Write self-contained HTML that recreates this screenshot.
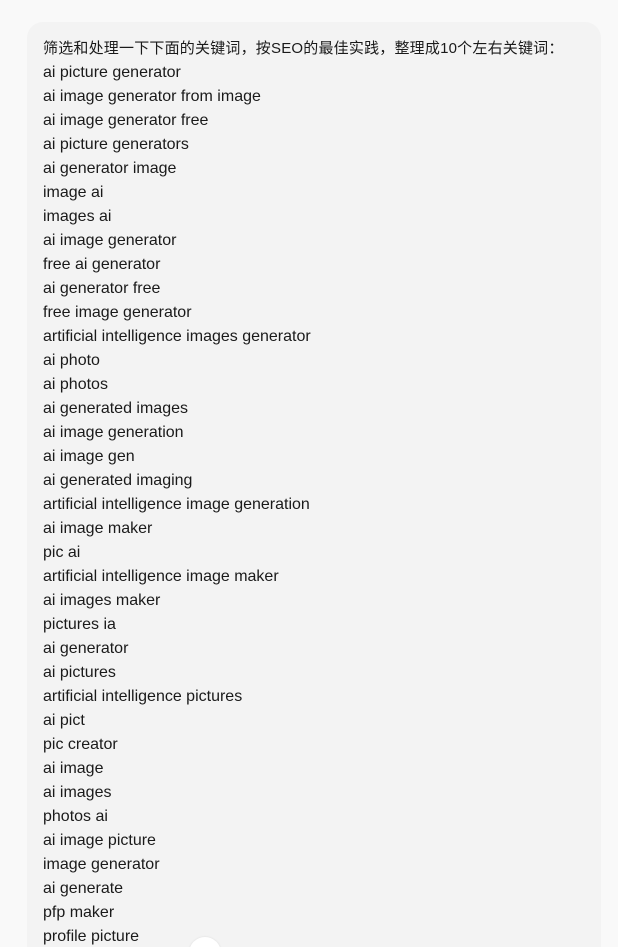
<!DOCTYPE html>
<html><head><meta charset="utf-8"><style>
html,body{margin:0;padding:0;width:618px;height:947px;overflow:hidden;background:#f9f9f9;}
#wrap{position:relative;width:618px;height:947px;overflow:hidden;background:#f9f9f9;}
#bubble{position:absolute;left:27px;top:22px;width:574px;height:960px;background:#f3f3f3;border-radius:16px;}
#text{position:absolute;left:43px;top:37px;font-family:"Liberation Sans","Noto Sans CJK SC",sans-serif;font-size:16px;line-height:24px;color:#1a1a1a;}
#text div{white-space:nowrap;}
#cn{font-size:15px;letter-spacing:0.2px;}
#scroll{position:absolute;left:189px;top:937px;width:32px;height:32px;border-radius:50%;background:#fff;box-shadow:0 0 2px rgba(0,0,0,0.1);}
</style></head><body>
<div id="wrap">
<div id="bubble"></div>
<div id="text">
<div id="cn">筛选和处理一下下面的关键词，按SEO的最佳实践，整理成10个左右关键词：</div>
<div>ai picture generator</div>
<div>ai image generator from image</div>
<div>ai image generator free</div>
<div>ai picture generators</div>
<div>ai generator image</div>
<div>image ai</div>
<div>images ai</div>
<div>ai image generator</div>
<div>free ai generator</div>
<div>ai generator free</div>
<div>free image generator</div>
<div>artificial intelligence images generator</div>
<div>ai photo</div>
<div>ai photos</div>
<div>ai generated images</div>
<div>ai image generation</div>
<div>ai image gen</div>
<div>ai generated imaging</div>
<div>artificial intelligence image generation</div>
<div>ai image maker</div>
<div>pic ai</div>
<div>artificial intelligence image maker</div>
<div>ai images maker</div>
<div>pictures ia</div>
<div>ai generator</div>
<div>ai pictures</div>
<div>artificial intelligence pictures</div>
<div>ai pict</div>
<div>pic creator</div>
<div>ai image</div>
<div>ai images</div>
<div>photos ai</div>
<div>ai image picture</div>
<div>image generator</div>
<div>ai generate</div>
<div>pfp maker</div>
<div>profile picture</div>
</div>
<div id="scroll"></div>
</div>
</body></html>
